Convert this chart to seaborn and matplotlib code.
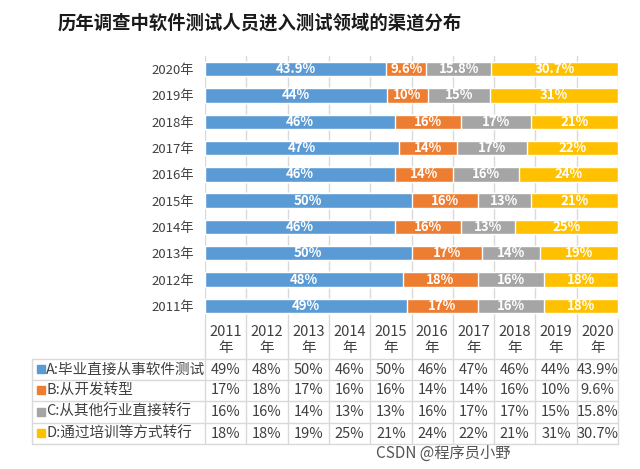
import matplotlib
matplotlib.use("Agg")
import matplotlib.pyplot as plt
import seaborn as sns
import pandas as pd
import numpy as np
from matplotlib.patches import Rectangle

years = ["2011年", "2012年", "2013年", "2014年", "2015年",
         "2016年", "2017年", "2018年", "2019年", "2020年"]
col_labels = ["2011\n年", "2012\n年", "2013\n年", "2014\n年", "2015\n年",
              "2016\n年", "2017\n年", "2018\n年", "2019\n年", "2020\n年"]
series_names = ["A:毕业直接从事软件测试", "B:从开发转型", "C:从其他行业直接转行", "D:通过培训等方式转行"]
A = [49, 48, 50, 46, 50, 46, 47, 46, 44, 43.9]
B = [17, 18, 17, 16, 16, 14, 14, 16, 10, 9.6]
C = [16, 16, 14, 13, 13, 16, 17, 17, 15, 15.8]
D = [18, 18, 19, 25, 21, 24, 22, 21, 31, 30.7]
colors = ["#5B9BD5", "#ED7D31", "#A5A5A5", "#FFC000"]
title = "历年调查中软件测试人员进入测试领域的渠道分布"

sns.set_theme(style="white")
plt.rcParams['font.family'] = ['Noto Sans CJK SC', 'DejaVu Sans']

W, H = 640, 469
fig = plt.figure(figsize=(W / 100, H / 100), dpi=100)

# bar axes in pixel layout
x0, x1 = 205, 618
y_top, y_bot = 56, 319
ax = fig.add_axes([x0 / W, 1 - y_bot / H, (x1 - x0) / W, (y_bot - y_top) / H])

series = [A, B, C, D]
df = pd.DataFrame({"year": years})
for name, s in zip(series_names, series):
    df[name] = s
order = years[::-1]
cum = np.cumsum(np.array(series, dtype=float), axis=0)

# draw cumulative bars from longest to shortest
for i in range(3, -1, -1):
    sns.barplot(x=cum[i], y=years, order=order, color=colors[i], saturation=1,
                width=0.55, orient="h", ax=ax, zorder=3)

# segment labels
for i, s in enumerate(series):
    for j, yr in enumerate(years):
        left = cum[i][j] - s[j]
        ypos = order.index(yr)
        ax.text(left + s[j] / 2, ypos, f"{s[j]:g}%", ha="center", va="center",
                color="white", fontsize=9.5, fontweight="bold", zorder=4)

ax.set_xlim(0, 100)
ax.set_xticks(np.arange(0, 101, 10))
ax.set_xticklabels([])
ax.tick_params(axis="x", length=0)
ax.tick_params(axis="y", length=0, pad=8, labelsize=9.5, labelcolor="#404040")
ax.grid(axis="x", color="#D9D9D9", linewidth=1, zorder=0)
ax.set_axisbelow(True)
ax.set_xlabel("")
ax.set_ylabel("")
for sp in ax.spines.values():
    sp.set_visible(False)

# table overlay in pixel coords
tax = fig.add_axes([0, 0, 1, 1])
tax.set_xlim(0, W)
tax.set_ylim(H, 0)
tax.axis("off")
tax.patch.set_alpha(0)

lc = "#D9D9D9"
lab_x0 = 32
cw = (x1 - x0) / 10
col_edges = [x0 + k * cw for k in range(11)]
row_edges = [359, 380, 401, 423, 444]

for xe in col_edges:
    tax.plot([xe, xe], [y_bot, row_edges[-1]], color=lc, lw=1)
tax.plot([lab_x0, lab_x0], [row_edges[0], row_edges[-1]], color=lc, lw=1)
for ye in row_edges:
    tax.plot([lab_x0, x1], [ye, ye], color=lc, lw=1)

tc = "#404040"
for k, lab in enumerate(col_labels):
    cx = x0 + (k + 0.5) * cw
    top, bot = lab.split("\n")
    tax.text(cx, 332, top, ha="center", va="center", fontsize=10.5, color=tc)
    tax.text(cx, 348, bot, ha="center", va="center", fontsize=10.5, color=tc)

for r, (name, s) in enumerate(zip(series_names, series)):
    cy = (row_edges[r] + row_edges[r + 1]) / 2
    tax.add_patch(Rectangle((37, cy - 4), 8, 8, color=colors[r]))
    tax.text(46, cy, name, ha="left", va="center", fontsize=10.5, color=tc)
    for k, v in enumerate(s):
        cx = x0 + (k + 0.5) * cw
        tax.text(cx, cy, f"{v:g}%", ha="center", va="center", fontsize=10.5, color=tc)

fig.text(260 / W, 1 - 23 / H, title, ha="center", va="center",
         fontsize=13.2, fontweight="bold", color="#1a1a1a")
fig.text(510 / W, 1 - 453 / H, "CSDN @程序员小野", ha="right", va="center",
         fontsize=11, color="#555555")

fig.savefig("out.png", dpi=100)
